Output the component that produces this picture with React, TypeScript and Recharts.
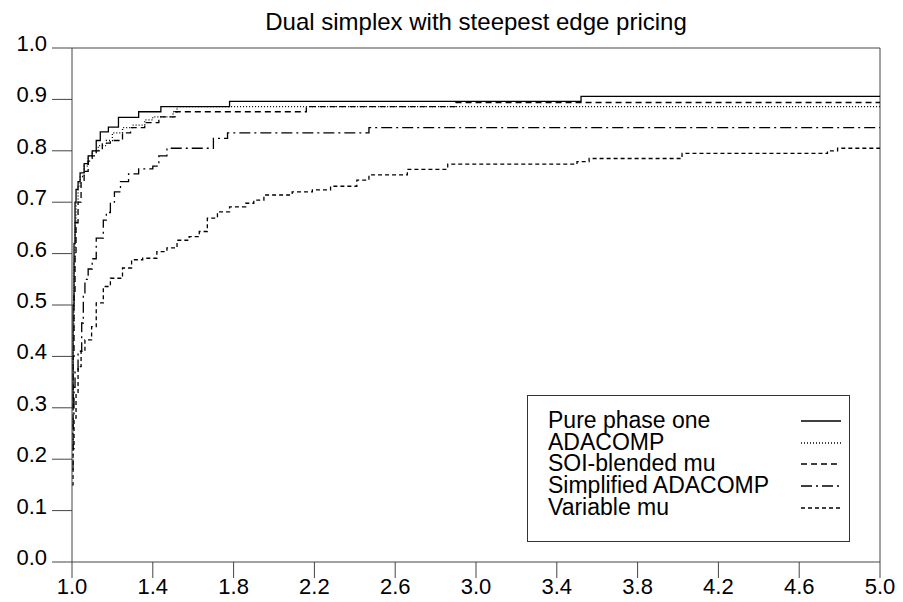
import React from 'react';
import { LineChart, Line, XAxis, YAxis, ReferenceLine } from 'recharts';

const xTicks = [1.0, 1.4, 1.8, 2.2, 2.6, 3.0, 3.4, 3.8, 4.2, 4.6, 5.0];
const yTicks = [0, 0.1, 0.2, 0.3, 0.4, 0.5, 0.6, 0.7, 0.8, 0.9, 1.0];

const purePhaseOne = [
  { x: 1.0, y: 0.3 }, { x: 1.005, y: 0.5 }, { x: 1.01, y: 0.62 }, { x: 1.015, y: 0.7 },
  { x: 1.02, y: 0.725 }, { x: 1.03, y: 0.74 }, { x: 1.04, y: 0.757 }, { x: 1.06, y: 0.775 },
  { x: 1.08, y: 0.79 }, { x: 1.1, y: 0.8 }, { x: 1.12, y: 0.82 }, { x: 1.14, y: 0.837 },
  { x: 1.18, y: 0.846 }, { x: 1.23, y: 0.865 }, { x: 1.33, y: 0.876 }, { x: 1.44, y: 0.886 },
  { x: 1.78, y: 0.896 }, { x: 3.52, y: 0.906 }, { x: 5.0, y: 0.906 },
];

const adacomp = [
  { x: 1.0, y: 0.25 }, { x: 1.005, y: 0.45 }, { x: 1.01, y: 0.58 }, { x: 1.015, y: 0.66 },
  { x: 1.02, y: 0.7 }, { x: 1.03, y: 0.73 }, { x: 1.04, y: 0.75 }, { x: 1.06, y: 0.77 },
  { x: 1.08, y: 0.79 }, { x: 1.1, y: 0.8 }, { x: 1.13, y: 0.81 }, { x: 1.17, y: 0.82 },
  { x: 1.2, y: 0.835 }, { x: 1.25, y: 0.845 }, { x: 1.3, y: 0.85 }, { x: 1.36, y: 0.86 },
  { x: 1.4, y: 0.866 }, { x: 1.5, y: 0.876 }, { x: 1.52, y: 0.886 }, { x: 5.0, y: 0.886 },
];

const soiBlendedMu = [
  { x: 1.0, y: 0.22 }, { x: 1.005, y: 0.4 }, { x: 1.01, y: 0.52 }, { x: 1.015, y: 0.6 },
  { x: 1.02, y: 0.66 }, { x: 1.03, y: 0.7 }, { x: 1.045, y: 0.74 }, { x: 1.06, y: 0.76 },
  { x: 1.08, y: 0.78 }, { x: 1.1, y: 0.79 }, { x: 1.12, y: 0.8 }, { x: 1.15, y: 0.815 },
  { x: 1.19, y: 0.82 }, { x: 1.25, y: 0.835 }, { x: 1.29, y: 0.845 }, { x: 1.36, y: 0.855 },
  { x: 1.43, y: 0.866 }, { x: 1.51, y: 0.876 }, { x: 2.16, y: 0.886 }, { x: 2.9, y: 0.894 },
  { x: 5.0, y: 0.894 },
];

const simplifiedAdacomp = [
  { x: 1.0, y: 0.18 }, { x: 1.005, y: 0.28 }, { x: 1.01, y: 0.34 }, { x: 1.015, y: 0.37 },
  { x: 1.03, y: 0.41 }, { x: 1.048, y: 0.465 }, { x: 1.056, y: 0.52 }, { x: 1.064, y: 0.55 },
  { x: 1.08, y: 0.57 }, { x: 1.1, y: 0.59 }, { x: 1.12, y: 0.63 }, { x: 1.155, y: 0.665 },
  { x: 1.17, y: 0.68 }, { x: 1.19, y: 0.7 }, { x: 1.21, y: 0.72 }, { x: 1.24, y: 0.74 },
  { x: 1.28, y: 0.755 }, { x: 1.33, y: 0.765 }, { x: 1.4, y: 0.77 }, { x: 1.43, y: 0.79 },
  { x: 1.47, y: 0.805 }, { x: 1.7, y: 0.824 }, { x: 1.77, y: 0.835 }, { x: 2.47, y: 0.845 },
  { x: 5.0, y: 0.845 },
];

const variableMu = [
  { x: 1.0, y: 0.15 }, { x: 1.005, y: 0.22 }, { x: 1.01, y: 0.28 }, { x: 1.02, y: 0.33 },
  { x: 1.03, y: 0.38 }, { x: 1.045, y: 0.41 }, { x: 1.064, y: 0.432 }, { x: 1.097, y: 0.458 },
  { x: 1.12, y: 0.504 }, { x: 1.155, y: 0.536 }, { x: 1.19, y: 0.552 }, { x: 1.25, y: 0.572 },
  { x: 1.295, y: 0.588 }, { x: 1.35, y: 0.591 }, { x: 1.42, y: 0.604 }, { x: 1.47, y: 0.611 },
  { x: 1.52, y: 0.626 }, { x: 1.58, y: 0.633 }, { x: 1.63, y: 0.643 }, { x: 1.67, y: 0.669 },
  { x: 1.72, y: 0.681 }, { x: 1.78, y: 0.691 }, { x: 1.86, y: 0.698 }, { x: 1.9, y: 0.704 },
  { x: 1.95, y: 0.714 }, { x: 2.09, y: 0.72 }, { x: 2.19, y: 0.724 }, { x: 2.28, y: 0.731 },
  { x: 2.41, y: 0.743 }, { x: 2.47, y: 0.753 }, { x: 2.66, y: 0.764 }, { x: 2.86, y: 0.774 },
  { x: 3.5, y: 0.779 }, { x: 3.56, y: 0.785 }, { x: 4.02, y: 0.795 }, { x: 4.74, y: 0.8 },
  { x: 4.79, y: 0.805 }, { x: 5.0, y: 0.805 },
];

const series = [
  { name: 'Pure phase one', data: purePhaseOne, dash: undefined as string | undefined },
  { name: 'ADACOMP', data: adacomp, dash: '1 2' },
  { name: 'SOI-blended mu', data: soiBlendedMu, dash: '6 4' },
  { name: 'Simplified ADACOMP', data: simplifiedAdacomp, dash: '11 4 2 4' },
  { name: 'Variable mu', data: variableMu, dash: '4 3' },
];

const FONT = '"Liberation Sans", Arial, Helvetica, sans-serif';
const AXIS = '#444';

const YTick = (props: any) => {
  const { x, y, payload } = props;
  return (
    <text x={x} y={y} dy={3} textAnchor="end" fontSize={22} fontFamily={FONT} fill="#000">
      {payload.value.toFixed(1)}
    </text>
  );
};

const LegendBox = () => (
  <div
    style={{
      position: 'absolute',
      left: 527,
      top: 395,
      width: 321,
      height: 131,
      paddingTop: 14,
      border: '1px solid #333',
      fontFamily: FONT,
      fontSize: 23,
      color: '#000',
      background: '#fff',
    }}
  >
    {series.map((s) => (
      <div key={s.name} style={{ position: 'relative', height: 21.7, lineHeight: '21.7px', paddingLeft: 20, whiteSpace: 'nowrap' }}>
        {s.name}
        <svg width={44} height={10} style={{ position: 'absolute', left: 272, top: 6 }}>
          <line x1={1} y1={5} x2={41} y2={5} stroke="#000" strokeWidth={1.6} strokeDasharray={s.dash} />
        </svg>
      </div>
    ))}
  </div>
);

export default function App() {
  return (
    <div style={{ position: 'absolute', left: 0, top: 0, width: 903, height: 602, background: '#fff' }}>
      <div
        style={{
          position: 'absolute',
          left: 72,
          width: 808,
          top: 8,
          textAlign: 'center',
          fontFamily: FONT,
          fontSize: 24,
          lineHeight: '28px',
          color: '#000',
        }}
      >
        Dual simplex with steepest edge pricing
      </div>
      <LineChart width={903} height={602} margin={{ top: 48, right: 23, left: 0, bottom: 0 }}>
        <XAxis
          type="number"
          dataKey="x"
          domain={[1, 5]}
          ticks={xTicks}
          tickFormatter={(v: number) => v.toFixed(1)}
          allowDataOverflow
          height={40}
          tickSize={16}
          tickMargin={0}
          stroke={AXIS}
          tick={{ fill: '#000', fontSize: 22, fontFamily: FONT }}
        />
        <YAxis
          type="number"
          domain={[0, 1]}
          ticks={yTicks}
          width={72}
          tickSize={20}
          tickMargin={5}
          stroke={AXIS}
          tick={<YTick />}
        />
        <ReferenceLine y={1} stroke={AXIS} />
        <ReferenceLine x={5} stroke={AXIS} />
        {series
          .slice()
          .reverse()
          .map((s) => (
            <Line
              key={s.name}
              name={s.name}
              data={s.data}
              dataKey="y"
              type="stepAfter"
              stroke="#000"
              strokeWidth={1.3}
              strokeDasharray={s.dash}
              dot={false}
              activeDot={false}
              isAnimationActive={false}
            />
          ))}
      </LineChart>
      <LegendBox />
    </div>
  );
}
